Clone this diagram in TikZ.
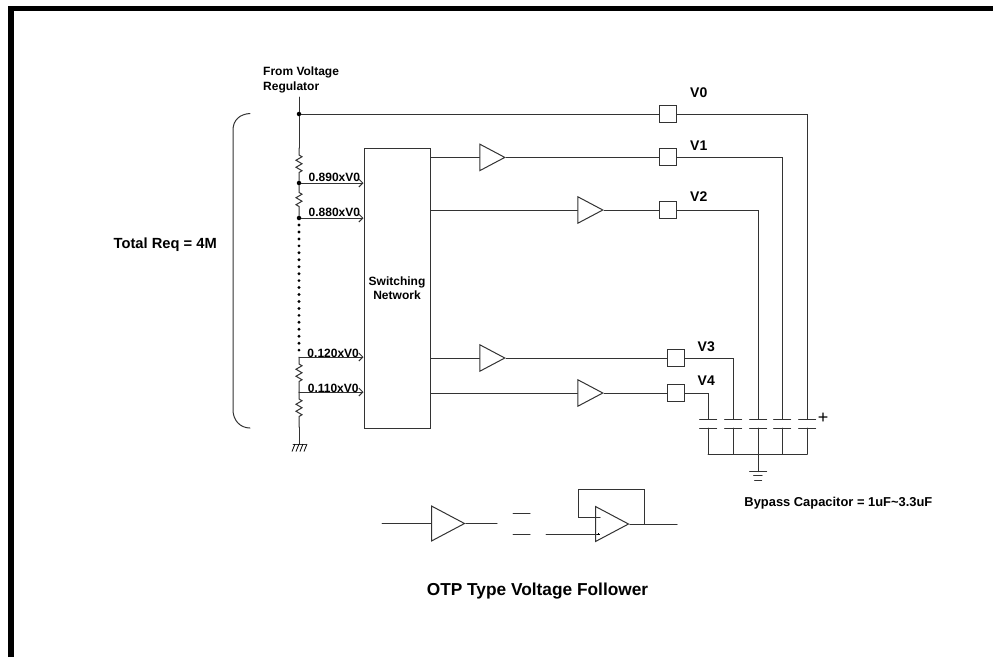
\documentclass[tikz,border=0pt]{standalone}
\usepackage{fontspec}
\setmainfont{Liberation Sans}
\usetikzlibrary{arrows.meta, calc, decorations.pathmorphing, shapes.geometric}
\begin{document}
\begin{tikzpicture}[
            x = 1pt, y = -1pt,
            > = {Straight Barb[length=4pt,width=8pt]},
         wire/.style = {line width=1pt, line cap=round, color=black!80},
      resistor/.style = {wire, decorate, decoration={zigzag, segment length=7pt,
                         amplitude=3pt, pre length=7pt, post length=8pt}},
         label/.style = {inner sep=0pt, text=black, font=\bfseries\fontsize{12}{15}\selectfont},
       bigtext/.style = {inner sep=0pt, text=black, font=\bfseries\fontsize{14}{17}\selectfont},
           dot/.style = {circle, fill=black, inner sep=0pt, minimum size=4.5pt},
           pad/.style = {wire, draw, fill=white, minimum size=17pt, inner sep=0pt},
        buffer/.style = {wire, draw, fill=white, isosceles triangle, isosceles triangle stretches,
                         minimum width=26.5pt, minimum height=25pt, inner sep=0pt,
                         anchor=lower side},
     bigbuffer/.style = {buffer, minimum width=35pt, minimum height=33pt}
                        ]
\useasboundingbox (0,0) rectangle (993,657);
% frame
    \draw[line width=5.5pt] (11,657) -- (11,8.5) -- (993,8.5);
% divider
    \coordinate (vin) at (299,97);
    \node[dot] (j0) at (299,114) {};
    \coordinate (r0) at (299,148);
    \node[dot] (j1) at (299,183) {};
    \node[dot] (j2) at (299,218) {};
    \coordinate (j3) at (299,357);
    \coordinate (j4) at (299,392);
    \coordinate (r4) at (299,427);
    \coordinate (gnd) at (299,444);
    \draw[wire] (vin) -- (j0) -- (r0);
    \draw[resistor] (r0) -- (j1);
    \draw[resistor] (j1) -- (j2);
    \draw[resistor] (j3) -- (j4);
    \draw[resistor] (j4) -- (r4);
    \draw[wire] (r4) -- (gnd);
    \foreach \i in {0,...,18}
        \fill ($(299,225)+(0,6.95*\i)$) circle (1.6pt);
% ground of the divider
    \draw[wire] ($(gnd)+(-6,0)$) -- ($(gnd)+(7,0)$);
    \foreach \i in {-4,0,4,8}
        \draw[line width=.8pt] ($(gnd)+(\i,0)$) -- ++(-3,7.5);
% switching network
    \node[wire, draw, minimum width=66pt, minimum height=280pt, inner sep=0pt,
          align=center, text=black, font=\bfseries\fontsize{12}{13.7}\selectfont]
        (net) at (397,288) {Switching\\Network};
    \draw[wire,->] (j1) -- node[label, pos=.53, anchor=base, yshift=1.5pt] {0.890xV0} (net.west |- j1);
    \draw[wire,->] (j2) -- node[label, pos=.53, anchor=base, yshift=1.5pt] {0.880xV0} (net.west |- j2);
    \draw[wire,->] (j3) -- node[label, pos=.53, anchor=base] {0.120xV0} (net.west |- j3);
    \draw[wire,->] (j4) -- node[label, pos=.53, anchor=base] {0.110xV0} (net.west |- j4);
% buffers and pads
    \node[buffer] (b1) at (479.3,157.4) {};
    \node[buffer] (b2) at (577.3,210) {};
    \node[buffer] (b3) at (479.3,358) {};
    \node[buffer] (b4) at (577.3,393) {};
    \node[pad] (p0) at (667.5,114) {};
    \node[pad] (p1) at (667.5,157.4) {};
    \node[pad] (p2) at (667.5,210) {};
    \node[pad] (p3) at (675.5,358) {};
    \node[pad] (p4) at (675.5,393) {};
    \draw[wire] (j0) -- (p0);
    \draw[wire] (net.east |- b1.lower side) -- (b1.lower side);
    \draw[wire] (net.east |- b2.lower side) -- (b2.lower side);
    \draw[wire] (net.east |- b3.lower side) -- (b3.lower side);
    \draw[wire] (net.east |- b4.lower side) -- (b4.lower side);
    \draw[wire] (b1.apex) -- (p1);
    \draw[wire] (b2.apex) -- (p2);
    \draw[wire] (b3.apex) -- (p3);
    \draw[wire] (b4.apex) -- (p4);
    \node[bigtext, anchor=base west] (v0) at (690,97.5) {V0};
    \node[bigtext, anchor=base west] (v1) at (690,150) {V1};
    \node[bigtext, anchor=base west] (v2) at (690,201) {V2};
    \node[bigtext, anchor=base west] (v3) at (697.5,351) {V3};
    \node[bigtext, anchor=base west] (v4) at (697.5,385) {V4};
% capacitors
    \foreach \n/\x in {4/708,3/733,2/758,1/782,0/807} {
        \coordinate (c\n) at (\x,419);
        \coordinate (d\n) at (\x,428);
        \coordinate (e\n) at (\x,454);
        \draw[wire] ($(c\n)+(-8.5,0)$) -- ($(c\n)+(8.5,0)$);
        \draw[wire] ($(d\n)+(-8.5,0)$) -- ($(d\n)+(8.5,0)$);
        \draw[wire] (d\n) -- (e\n);
        \draw[wire] (p\n) -| (c\n);
    }
    \draw[wire] (e4) -- (e0);
    \node[inner sep=0pt, font=\fontsize{18}{18}\selectfont] (plus) at (823,418.5) {+};
% ground of the capacitors
    \coordinate (gnd2) at (758,471.5);
    \draw[wire] (e2) -- (gnd2);
    \draw[wire] ($(gnd2)+(-8.5,0)$) -- ($(gnd2)+(8.5,0)$);
    \draw[wire] ($(gnd2)+(-4.5,4)$) -- ($(gnd2)+(4,4)$);
    \draw[wire] ($(gnd2)+(-3.5,8.5)$) -- ($(gnd2)+(3.5,8.5)$);
% bracket
    \coordinate (bt) at (250,113.5);
    \coordinate (bb) at (250,428);
    \draw[wire] (bt) .. controls (240,114) and (233,120) .. (233,130)
        -- (233,410) .. controls (233,420) and (240,428) .. (bb);
% legend
    \coordinate (inA) at (382,523.5);
    \coordinate (outA) at (497,523.5);
    \node[bigbuffer] (bA) at (431,523.5) {};
    \draw[wire] (inA) -- (bA.lower side);
    \draw[wire] (bA.apex) -- (outA);
    \draw[wire] (513,513.5) -- (530,513.5);
    \draw[wire] (513,534) -- (530,534);
    \node[bigbuffer] (op) at (595,524) {};
    \coordinate (inB) at (546,534);
    \coordinate (inP) at (597,534);
    \coordinate (inN) at (600,517);
    \coordinate (outB) at (677,524);
    \coordinate (fb) at (644,524);
    \draw[wire] (inB) -- (inP);
    \draw[wire] (op.apex) -- (outB);
    \draw[wire] (fb) -- (644,489) -- (578,489) -- (578,517) -- (inN);
    \draw[line width=.7pt] (597,534) -- (599.5,534) (598.2,532.8) -- (598.2,535.2);
% texts
    \node[label, anchor=base west, align=left] (reg) at (263,90) {From Voltage\\Regulator};
    \node[bigtext, anchor=base west, font=\bfseries\fontsize{14.7}{17}\selectfont] (req) at (113.5,248) {Total Req = 4M};
    \node[bigtext, anchor=base east, font=\bfseries\fontsize{12.9}{15}\selectfont] (bypass) at (932.5,506) {Bypass Capacitor = 1uF\textasciitilde3.3uF};
    \node[bigtext, anchor=base, font=\bfseries\fontsize{17.3}{20}\selectfont] (otp) at (537.5,595) {OTP Type Voltage Follower};
\end{tikzpicture}
\end{document}
